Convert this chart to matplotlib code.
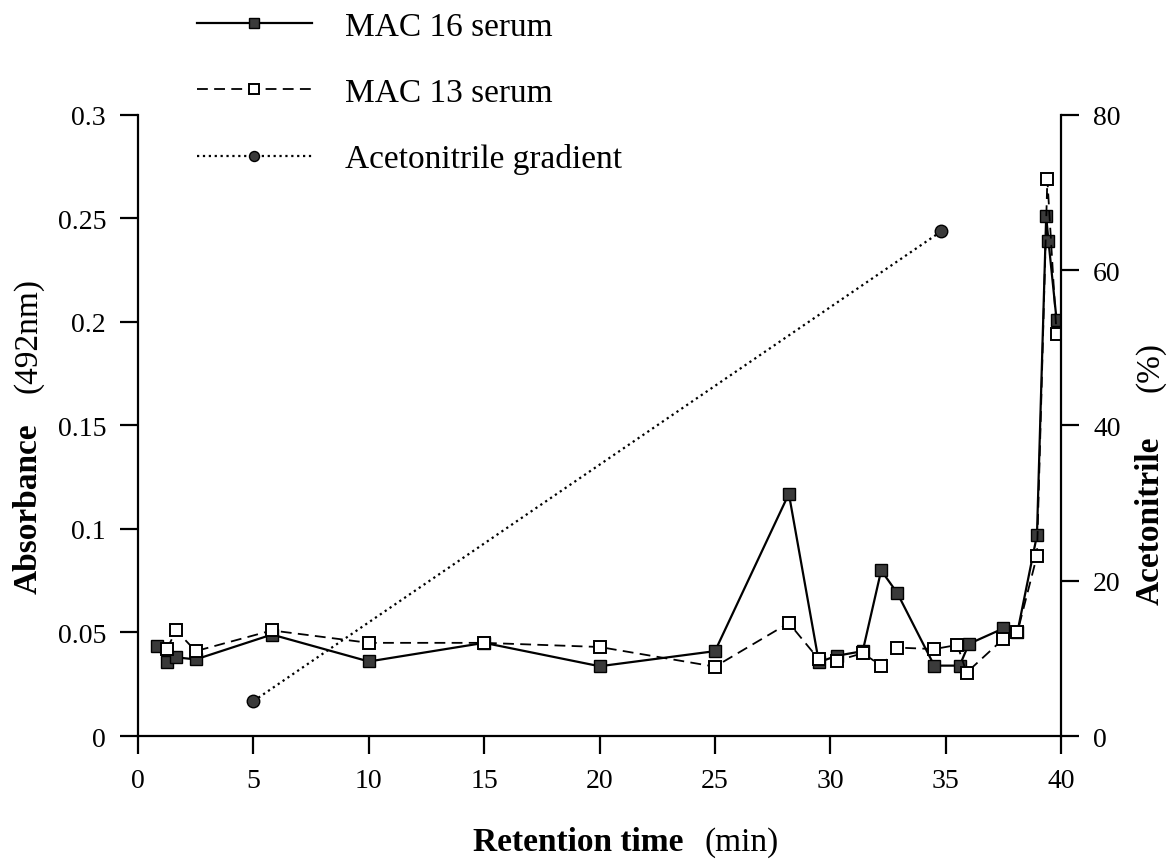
#!/usr/bin/python

import numpy as np
from matplotlib import pyplot as plt
from matplotlib.ticker import FormatStrFormatter

plt.rcParams['font.family'] = ['Liberation Serif', 'DejaVu Serif']

# absorbance at 492nm per fraction
mac16_t = [0.8, 1.25, 1.65, 2.5, 5.8, 10.0, 15.0, 20.0, 25.0, 28.2, 29.5, 30.3,
           31.4, 32.2, 32.9, 34.5, 35.6, 36.0, 37.5, 38.1, 38.95, 39.35, 39.45, 39.8]
mac16_abs = [0.0435, 0.0357, 0.038, 0.037, 0.049, 0.036, 0.045, 0.0337, 0.041,
             0.117, 0.0357, 0.0388, 0.041, 0.080, 0.069, 0.034, 0.034, 0.0445,
             0.052, 0.050, 0.097, 0.251, 0.239, 0.201]

mac13_t = [1.25, 1.65, 2.5, 5.8, 10.0, 15.0, 20.0, 25.0, 28.2, 29.5, 30.3, 31.4,
           32.2, 32.9, 34.5, 35.5, 35.9, 37.5, 38.1, 38.95, 39.4, 39.8]
mac13_abs = [0.042, 0.051, 0.041, 0.051, 0.045, 0.045, 0.043, 0.0335, 0.0546,
             0.037, 0.0364, 0.040, 0.034, 0.0427, 0.042, 0.044, 0.0306, 0.047,
             0.050, 0.087, 0.269, 0.194]

# acetonitrile gradient (%)
grad_t = [5.0, 34.8]
grad_pct = [4.5, 65.0]

x_ticks = np.arange(0, 41, 5)
abs_ticks = [0, 0.05, 0.1, 0.15, 0.2, 0.25, 0.3]
pct_ticks = [0, 20, 40, 60, 80]

fig = plt.figure(figsize=(11.7, 8.62), dpi=100)
ax = fig.add_axes([0.118, 0.145, 0.789, 0.7205])
ax2 = ax.twinx()

l16, = ax.plot(mac16_t, mac16_abs, '-', color='black', lw=1.6,
               marker='s', ms=8.5, mfc='#3a3a3a', mec='black', mew=1.0)
l13, = ax.plot(mac13_t, mac13_abs, '--', color='black', lw=1.3, dashes=(6, 3.5),
               marker='s', ms=8.5, mfc='white', mec='black', mew=1.4)
lg, = ax2.plot(grad_t, grad_pct, ':', color='black', lw=1.6,
               marker='o', ms=9, mfc='#3a3a3a', mec='black', mew=1.0)

ax.set_xlim(0, 40)
ax.set_ylim(0, 0.3)
ax2.set_ylim(0, 80)
ax.set_xticks(x_ticks)
ax.set_yticks(abs_ticks)
ax2.set_yticks(pct_ticks)
ax.yaxis.set_major_formatter(FormatStrFormatter('%g'))

for a in (ax, ax2):
    a.spines['top'].set_visible(False)
    a.patch.set_visible(False)
ax.spines['right'].set_visible(False)
ax2.spines['left'].set_visible(False)
ax2.spines['bottom'].set_visible(False)
for s in ('left', 'bottom'):
    ax.spines[s].set_linewidth(1.6)
ax2.spines['right'].set_linewidth(1.6)

ax.tick_params(axis='both', direction='out', length=13, width=1.6,
               labelsize=20, pad=10)
ax2.tick_params(axis='y', direction='out', length=13, width=1.6,
                labelsize=20, pad=10)

# axis titles: bold name followed by plain unit
fig.text(0.024, 0.410, 'Absorbance', rotation=90, fontsize=24,
         fontweight='bold', ha='center', va='center')
fig.text(0.024, 0.611, '(492nm)', rotation=90, fontsize=24,
         ha='center', va='center')
fig.text(0.494, 0.023, 'Retention time', fontsize=24, fontweight='bold',
         ha='center', va='center')
fig.text(0.634, 0.023, '(min)', fontsize=24, ha='center', va='center')
fig.text(0.983, 0.396, 'Acetonitrile', rotation=90, fontsize=24,
         fontweight='bold', ha='center', va='center')
fig.text(0.983, 0.574, '(%)', rotation=90, fontsize=24,
         ha='center', va='center')

fig.legend([l16, l13, lg], ['MAC 16 serum', 'MAC 13 serum', 'Acetonitrile gradient'],
           loc='upper left', bbox_to_anchor=(0.168, 0.986), frameon=False,
           fontsize=24, handlelength=3.45, handletextpad=1.0, labelspacing=1.07,
           borderpad=0, borderaxespad=0, numpoints=1, markerscale=0.8)

fig.savefig('out.png', dpi=100)
